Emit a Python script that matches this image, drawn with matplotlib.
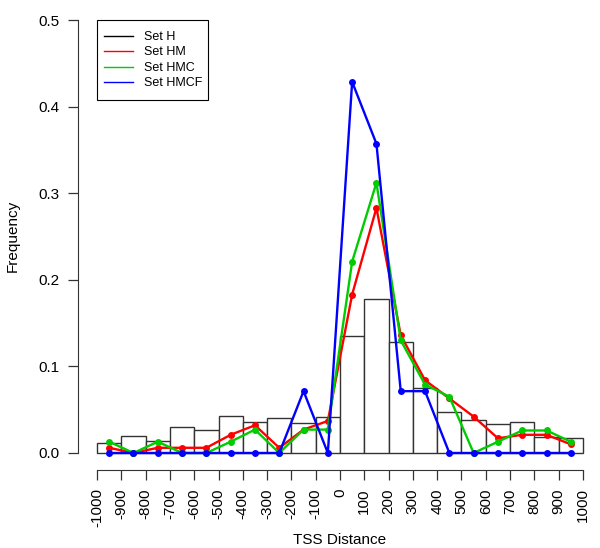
import matplotlib
matplotlib.use("Agg")
import matplotlib.pyplot as plt
from matplotlib.lines import Line2D
from matplotlib.patches import Rectangle

plt.rcParams['font.family'] = ['Liberation Sans', 'DejaVu Sans']

# Bin edges (TSS distance)
bin_edges = [-1000, -900, -800, -700, -600, -500, -400, -300, -200, -100, 0,
             100, 200, 300, 400, 500, 600, 700, 800, 900, 1000]
bin_centers = [(a + b) / 2 for a, b in zip(bin_edges[:-1], bin_edges[1:])]

# Histogram: Set H
set_h = [0.012, 0.020, 0.014, 0.030, 0.027, 0.043, 0.036, 0.040, 0.035, 0.041,
         0.135, 0.178, 0.128, 0.075, 0.047, 0.038, 0.033, 0.036, 0.018, 0.017]
# Set HM
set_hm = [0.006, 0.000, 0.006, 0.006, 0.006, 0.021, 0.032, 0.006, 0.027, 0.037,
          0.183, 0.283, 0.136, 0.084, 0.063, 0.042, 0.017, 0.021, 0.021, 0.010]
# Set HMC
set_hmc = [0.013, 0.000, 0.013, 0.000, 0.000, 0.013, 0.027, 0.000, 0.027, 0.027,
           0.221, 0.312, 0.130, 0.079, 0.065, 0.000, 0.013, 0.026, 0.026, 0.013]
# Set HMCF
set_hmcf = [0.000, 0.000, 0.000, 0.000, 0.000, 0.000, 0.000, 0.000, 0.0714, 0.000,
            0.4286, 0.3571, 0.0714, 0.0714, 0.000, 0.000, 0.000, 0.000, 0.000, 0.000]

legend_labels = ["Set H", "Set HM", "Set HMC", "Set HMCF"]
colors = ["black", "#FF0000", "#00CC00", "#0000FF"]
xticks = list(range(-1000, 1001, 100))
yticks = [0.0, 0.1, 0.2, 0.3, 0.4, 0.5]

W, H = 600, 548
fig = plt.figure(figsize=(W / 100, H / 100), dpi=100)
left_px, right_px = 77.6, 602.4
top_px, bot_px = 2.7, 470.3
ax = fig.add_axes([left_px / W, 1 - bot_px / H, (right_px - left_px) / W, (bot_px - top_px) / H])
ax.patch.set_alpha(0)

widths = [b - a for a, b in zip(bin_edges[:-1], bin_edges[1:])]
ax.bar(bin_edges[:-1], set_h, width=widths, align='edge', facecolor='white',
       edgecolor='#333333', linewidth=1.0, zorder=1)

for vals, c in zip([set_hm, set_hmc, set_hmcf], colors[1:]):
    ax.plot(bin_centers, vals, color=c, linewidth=1.7, marker='o', markersize=5,
            markeredgewidth=0, zorder=3)

ax.set_xlim(-1080, 1080)
ax.set_ylim(-0.02, 0.52)

for s in ['top', 'right']:
    ax.spines[s].set_visible(False)
ax.spines['left'].set_bounds(0, 0.5)
ax.spines['bottom'].set_bounds(-1000, 1000)
ax.spines['left'].set_color('#333333')
ax.spines['bottom'].set_color('#333333')

ax.set_xticks(xticks)
ax.set_xticklabels([str(t) for t in xticks], rotation=90, fontsize=11)
ax.set_yticks(yticks)
ax.set_yticklabels([f"{t:.1f}" for t in yticks], fontsize=11)
ax.tick_params(axis='both', direction='out', length=7, width=0.9, color='#333333', pad=6)

fig.text(340 / W, 1 - 540 / H, "TSS Distance", ha='center', va='center', fontsize=11)
fig.text(13 / W, 1 - 236 / H, "Frequency", ha='center', va='center', rotation=90, fontsize=11)

# Legend frame (R-style box)
box_l, box_t, box_w, box_h = 97, 20, 111, 80
fig.patches.append(Rectangle((box_l / W, 1 - (box_t + box_h) / H), box_w / W, box_h / H,
                             transform=fig.transFigure, facecolor='white',
                             edgecolor='black', linewidth=0.8, zorder=4))

handles = [Line2D([0], [0], color=c, linewidth=1.0) for c in colors]
leg = fig.legend(handles, legend_labels, loc='upper left',
                 bbox_to_anchor=(box_l / W, 1 - (box_t + 4) / H),
                 borderaxespad=0, fontsize=9, frameon=False, handlelength=2.3,
                 handletextpad=0.95, labelspacing=0.28, borderpad=0.55)
leg.set_zorder(5)

fig.savefig("out.png", dpi=100)
